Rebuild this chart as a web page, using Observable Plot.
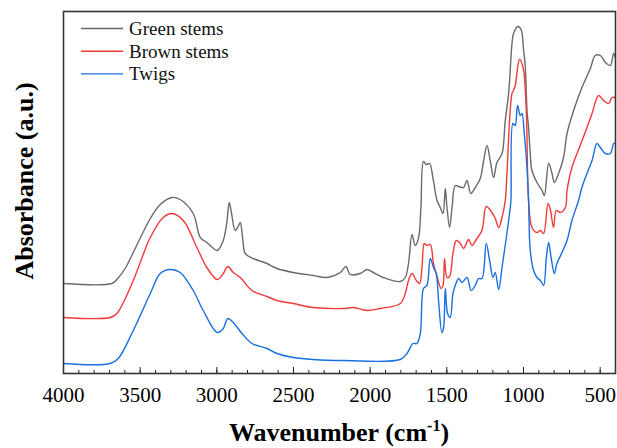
<!DOCTYPE html>
<html>
<head>
<meta charset="utf-8">
<script src="https://cdn.jsdelivr.net/npm/d3@7"></script>
<script src="https://cdn.jsdelivr.net/npm/@observablehq/plot@0.6"></script>
<style>
  html, body { margin: 0; padding: 0; background: #fff; }
  #chart { width: 617px; height: 448px; }
  #chart svg text { font-family: "Liberation Serif", "Times New Roman", serif !important; }
</style>
</head>
<body>
<div id="chart"></div>
<script>
// Series: [wavenumber (cm-1), absorbance (a.u., offset stacked)]
const greenStems = [
  [4000,90],[3684,90],[3652,94],[3598,105],[3545,121],[3434,155],[3369,169],[3293,176],[3239,174],
  [3154,160],[3108,136],[3065,131],[2997,123],[2958,133],[2935,151],[2919,171],[2905,161],[2880,143],
  [2858,148],[2847,151],[2830,133],[2815,120],[2763,115],[2673,110],[2608,105],[2502,101],[2371,98],
  [2282,96],[2195,101],[2158,107],[2130,99],[2065,100],[2021,104],[1980,101],[1915,96],[1804,92],
  [1771,96],[1750,110],[1727,139],[1706,128],[1684,136],[1669,166],[1652,212],[1634,209],[1613,210],
  [1590,195],[1564,173],[1543,166],[1525,160],[1510,185],[1499,166],[1482,146],[1466,166],[1445,188],
  [1423,187],[1391,186],[1369,193],[1343,180],[1315,186],[1282,195],[1260,213],[1238,228],[1217,213],
  [1195,196],[1173,211],[1140,220],[1119,253],[1097,280],[1075,330],[1065,340],[1036,347],[1016,344],
  [999,323],[988,306],[977,263],[967,246],[956,220],[945,203],[912,191],[879,183],[864,178],[836,210],
  [814,200],[799,191],[771,200],[739,216],[716,240],[673,263],[619,286],[564,305],[532,318],[499,318],
  [466,311],[434,308],[412,320],[401,316]
];
const brownStems = [
  [4000,56],[3695,56],[3652,60],[3545,93],[3434,136],[3350,156],[3293,160],[3219,153],[3130,126],
  [3065,106],[2997,94],[2958,100],[2928,107],[2893,101],[2847,96],[2771,83],[2673,77],[2608,73],
  [2502,70],[2371,66],[2175,65],[2110,66],[2021,63],[1934,65],[1804,70],[1771,80],[1750,93],[1727,100],
  [1699,93],[1678,90],[1662,106],[1647,130],[1630,128],[1608,129],[1587,110],[1560,95],[1538,85],
  [1525,88],[1515,115],[1499,96],[1482,97],[1460,120],[1438,133],[1412,130],[1391,125],[1358,134],
  [1336,128],[1308,134],[1271,143],[1243,167],[1206,161],[1184,155],[1162,146],[1140,156],[1119,173],
  [1108,200],[1075,280],[1065,283],[1054,288],[1026,314],[1003,306],[982,263],[967,173],[945,146],
  [912,141],[890,143],[869,140],[840,170],[825,164],[804,146],[786,163],[760,161],[727,166],[716,183],
  [684,206],[630,228],[586,246],[553,260],[510,278],[478,273],[445,270],[423,276],[401,276]
];
const twigs = [
  [4000,10],[3695,10],[3643,15],[3545,43],[3434,80],[3369,100],[3304,104],[3239,101],[3154,83],
  [3089,63],[2997,41],[2958,45],[2928,55],[2893,51],[2836,40],[2771,30],[2673,25],[2608,20],[2502,16],
  [2371,14],[2175,13],[1804,14],[1760,20],[1721,30],[1695,30],[1673,40],[1652,85],[1630,88],[1608,115],
  [1587,106],[1569,100],[1554,73],[1532,41],[1521,46],[1510,85],[1495,60],[1478,56],[1460,80],[1445,88],
  [1423,95],[1401,91],[1369,96],[1341,83],[1315,88],[1293,95],[1271,95],[1243,130],[1221,113],[1199,96],
  [1184,101],[1162,84],[1140,106],[1112,136],[1091,160],[1082,173],[1069,250],[1054,248],[1039,268],
  [1021,258],[1010,260],[995,240],[977,206],[967,173],[956,123],[934,103],[912,96],[890,93],[869,88],
  [851,116],[836,131],[819,115],[799,100],[782,110],[749,121],[716,133],[684,153],[641,173],[619,186],
  [586,200],[553,213],[521,230],[499,226],[466,220],[434,220],[412,230],[401,230]
];
const seriesNames = ["Green stems", "Brown stems", "Twigs"];
const seriesColors = ["#6a6a6a", "#f23a3a", "#1a6fe0"];
const majorTicks = [4000, 3500, 3000, 2500, 2000, 1500, 1000, 500];
const minorTicks = d3.range(4000, 399, -100);

const serif = "Liberation Serif";
const seriesData = [greenStems, brownStems, twigs];
const rows = seriesData.flatMap((s, i) => s.map(([w, a]) => ({w, a, name: seriesNames[i]})));

const plot = Plot.plot({
  width: 617,
  height: 448,
  marginLeft: 63,
  marginRight: 2,
  marginTop: 11,
  marginBottom: 75,
  style: {fontFamily: serif, fontSize: "21px", color: "#000", background: "#fff"},
  x: {domain: [4000, 400], label: null},
  y: {domain: [0, 362], axis: null},
  color: {domain: seriesNames, range: seriesColors},
  marks: [
    Plot.line(rows, {x: "w", y: "a", z: "name", stroke: "name", strokeWidth: 1.4, curve: "catmull-rom"}),
    Plot.axisX({ticks: majorTicks, tickSize: 0, tickPadding: 14, tickFormat: d => String(d), label: null, fontSize: 21, fontFamily: serif, fontVariant: "normal", fill: "#000"}),
    Plot.axisX({ticks: minorTicks, tickSize: 3, dy: -3, tickFormat: () => "", label: null, stroke: "#222"}),
    Plot.axisX({ticks: majorTicks, tickSize: 6, dy: -6, tickFormat: () => "", label: null, stroke: "#222"}),
    Plot.frame({stroke: "#333", strokeWidth: 1.6})
  ]
});

const svg = d3.select(plot);
svg.style("font-family", serif);
svg.selectAll("g").attr("font-family", serif);
svg.selectAll("text").style("font-family", serif).style("font-variant", "normal");
// legend
const lg = svg.append("g").attr("font-family", serif).attr("font-size", 19).attr("text-anchor", "start");
seriesNames.forEach((n, i) => {
  const y = 28.5 + i * 22.7;
  lg.append("line").attr("x1", 81).attr("x2", 123).attr("y1", y).attr("y2", y)
    .attr("stroke", seriesColors[i]).attr("stroke-width", 1.4);
  lg.append("text").attr("x", 129).attr("y", y + 6.5).attr("text-anchor", "start").attr("fill", "#111").text(n);
});
// x axis title
const xt = svg.append("text").attr("x", 339).attr("y", 441).attr("text-anchor", "middle")
  .attr("font-family", serif).attr("font-weight", "bold").attr("font-size", 26).attr("fill", "#000");
xt.append("tspan").text("Wavenumber (cm");
xt.append("tspan").attr("font-size", 16).attr("dy", -10).text("-1");
xt.append("tspan").attr("dy", 10).text(")");
// y axis title
svg.append("text").attr("transform", "translate(33,181) rotate(-90)").attr("text-anchor", "middle")
  .attr("font-family", serif).attr("font-weight", "bold").attr("font-size", 26).attr("fill", "#000")
  .text("Absorbance (a.u.)");

document.getElementById("chart").appendChild(plot);
</script>
</body>
</html>
